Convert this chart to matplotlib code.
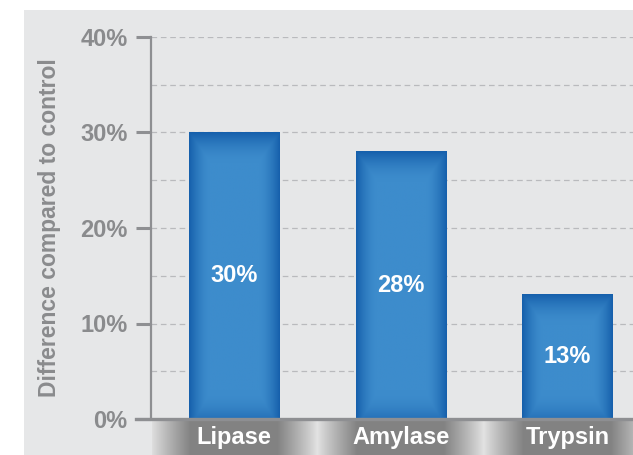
import numpy as np
import matplotlib.pyplot as plt
from matplotlib.patches import Rectangle

# data
enzymes = ["Lipase", "Amylase", "Trypsin"]
diff_pct = [30, 28, 13]
bar_labels = ["30%", "28%", "13%"]
y_ticks = [0, 10, 20, 30, 40]
y_tick_labels = ["0%", "10%", "20%", "30%", "40%"]
grid_levels = [5, 10, 15, 20, 25, 30, 35, 40]

plt.rcParams['font.family'] = ['Liberation Sans', 'DejaVu Sans']
gray_txt = '#8a8b8d'
axis_col = '#8e8f92'
fs = 17

W, H = 633, 455
fig = plt.figure(figsize=(W/100, H/100), dpi=100)
fig.patch.set_facecolor('white')
# gray panel behind everything
fig.patches.append(Rectangle((24/W, 0), 1, (H-10)/H, transform=fig.transFigure,
                             facecolor='#e6e7e8', edgecolor='none', zorder=0))

ax = fig.add_axes([151/W, 36/H, 1-151/W, 382/H])
ax.set_zorder(3)
ax.set_facecolor('none')

x = np.arange(len(enzymes))
bw = 0.54
xmin, xmax = -0.498, 2.393
ax.set_xlim(xmin, xmax)
ax.set_ylim(0, 40)

# dashed gridlines
for g in grid_levels:
    ax.axhline(g, color='#b9babd', lw=0.9, dashes=(4.5, 3), zorder=1)

# bar fill gradient: light centre, darker edges
nx, ny = 120, 200
u = np.linspace(-1, 1, nx)
fx = np.clip((np.abs(u) - 0.55) / 0.45, 0, 1) ** 1.6
c_light = np.array([0x3d, 0x8c, 0xcc]) / 255
c_dark = np.array([0x16, 0x60, 0xac]) / 255

bars = ax.bar(x, diff_pct, width=bw, color='none', edgecolor='none', zorder=2)
for b, v in zip(bars, diff_pct):
    hpx = v * 382 / 40
    yy = np.linspace(0, hpx, ny)
    top = np.clip(1 - (hpx - yy) / 30, 0, 1) ** 1.8
    bot = np.clip(1 - yy / 28, 0, 1) ** 2 * 0.6
    fy = np.maximum(top, bot)
    d = np.maximum(fx[None, :], fy[:, None])
    img = c_light[None, None, :] * (1 - d[..., None]) + c_dark[None, None, :] * d[..., None]
    x0 = b.get_x()
    ax.imshow(img, extent=(x0, x0 + bw, 0, v), origin='lower', aspect='auto',
              interpolation='bilinear', zorder=2)

ax.set_xlim(xmin, xmax)
ax.set_ylim(0, 40)

for xi, v, lab in zip(x, diff_pct, bar_labels):
    ax.text(xi, v / 2, lab, ha='center', va='center', color='white',
            fontsize=fs, fontweight='bold', zorder=4)

ax.set_yticks(y_ticks)
ax.set_yticklabels(y_tick_labels, fontsize=fs, fontweight='bold', color=gray_txt)
ax.tick_params(axis='y', length=11, width=2.2, color=axis_col, pad=6)
ax.set_xticks(x)
ax.set_xticklabels(enzymes, fontsize=fs, fontweight='bold', color='white')
ax.tick_params(axis='x', length=0, pad=5)

for s in ['top', 'right']:
    ax.spines[s].set_visible(False)
ax.spines['left'].set_color(axis_col)
ax.spines['left'].set_linewidth(1.6)
ax.spines['bottom'].set_color(axis_col)
ax.spines['bottom'].set_linewidth(2.4)
ax.spines['bottom'].set_bounds(xmin - 15 / 166.75, xmax)

ax.set_ylabel("Difference compared to control", fontsize=16.5, fontweight='bold',
              color=gray_txt, labelpad=14)

# metallic band under the category labels
band = fig.add_axes([152/W, 0, 1-152/W, 35/H])
band.set_zorder(2)
px = np.arange(152, W) + 0.5
bounds = np.array([151, 317.5, 484, 651])
dist = np.min(np.abs(px[:, None] - bounds[None, :]), axis=1)
t = np.clip(dist / 40, 0, 1) ** 0.9
light, dark = 0.89, 0.51
shade = light * (1 - t) + dark * t
band.imshow(np.tile(shade, (10, 1)), cmap='gray', vmin=0, vmax=1, aspect='auto',
            interpolation='bilinear')
band.axis('off')

fig.savefig('out.png', dpi=100)
